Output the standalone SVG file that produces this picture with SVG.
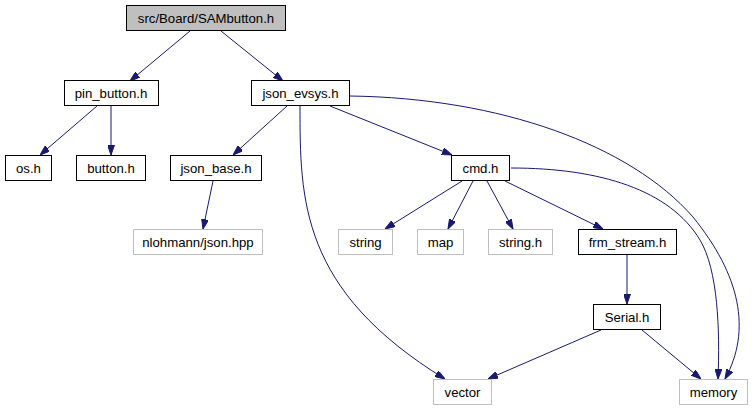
<svg xmlns="http://www.w3.org/2000/svg" width="754" height="411" viewBox="0 0 754 411">
<defs>
<style>
.n rect{fill:#ffffff;stroke:#000000;stroke-width:1}
.n.ext rect{stroke:#bfbfbf}
.n.root rect{fill:#bfbfbf}
.n text{font-family:"Liberation Sans",Arial,Helvetica,sans-serif;font-size:13.2px;text-anchor:middle;fill:#000000}
.e path{fill:none;stroke:#191970;stroke-width:1;marker-end:url(#ah)}
</style>
<marker id="ah" viewBox="0 0 10 7" refX="10" refY="3.5" markerWidth="10" markerHeight="7" markerUnits="userSpaceOnUse" orient="auto">
<path d="M0,0 L10,3.5 L0,7 z" fill="#191970" stroke="#191970" stroke-width="1"/>
</marker>
</defs>
<rect width="754" height="411" fill="#ffffff"/>
<g id="edges" class="e">
<path d="M190,31 L130,81"/>
<path d="M221,31 L283,81"/>
<path d="M97,106 L40,155"/>
<path d="M111,106 L111,155"/>
<path d="M287,106 L233,155"/>
<path d="M213,181 L203,229"/>
<path d="M330,106 L452,155"/>
<path d="M300,106 C300,200 300,290 445,379"/>
<path d="M350,96 C500,98 630,145 693,217 C740,275 752,330 725,379"/>
<path d="M462,181 L385,229"/>
<path d="M473,181 L448,229"/>
<path d="M487,181 L513,229"/>
<path d="M505,181 L603,229"/>
<path d="M511,168 C600,168 670,190 700,240 C718,270 720,330 718,379"/>
<path d="M627,255 L627,304"/>
<path d="M601,330 L488,379"/>
<path d="M642,330 L701,379"/>
</g>
<g id="n_sambutton" class="n root"><rect x="126.5" y="5.5" width="159" height="25"/><text x="206" y="23">src/Board/SAMbutton.h</text></g>
<g id="n_pin_button" class="n"><rect x="64.5" y="80.5" width="94" height="25"/><text x="111" y="98">pin_button.h</text></g>
<g id="n_json_evsys" class="n"><rect x="251.5" y="80.5" width="98" height="25"/><text x="300.5" y="98">json_evsys.h</text></g>
<g id="n_os" class="n"><rect x="5.5" y="155.5" width="46" height="25"/><text x="28.5" y="173">os.h</text></g>
<g id="n_button" class="n"><rect x="76.5" y="155.5" width="69" height="25"/><text x="111" y="173">button.h</text></g>
<g id="n_json_base" class="n"><rect x="170.5" y="155.5" width="91" height="25"/><text x="216" y="173">json_base.h</text></g>
<g id="n_cmd" class="n"><rect x="451.5" y="155.5" width="58" height="25"/><text x="480.5" y="173">cmd.h</text></g>
<g id="n_nlohmann" class="n ext"><rect x="133.5" y="229.5" width="129" height="25"/><text x="198" y="247">nlohmann/json.hpp</text></g>
<g id="n_string" class="n ext"><rect x="338.5" y="229.5" width="54" height="25"/><text x="365.5" y="247">string</text></g>
<g id="n_map" class="n ext"><rect x="417.5" y="229.5" width="46" height="25"/><text x="440.5" y="247">map</text></g>
<g id="n_string_h" class="n ext"><rect x="488.5" y="229.5" width="64" height="25"/><text x="520.5" y="247">string.h</text></g>
<g id="n_frm_stream" class="n"><rect x="578.5" y="229.5" width="98" height="25"/><text x="627.5" y="247">frm_stream.h</text></g>
<g id="n_serial" class="n"><rect x="593.5" y="304.5" width="67" height="25"/><text x="627" y="322">Serial.h</text></g>
<g id="n_vector" class="n ext"><rect x="433.5" y="379.5" width="58" height="25"/><text x="462.5" y="397">vector</text></g>
<g id="n_memory" class="n ext"><rect x="679.5" y="379.5" width="68" height="25"/><text x="713.5" y="397">memory</text></g>
</svg>
